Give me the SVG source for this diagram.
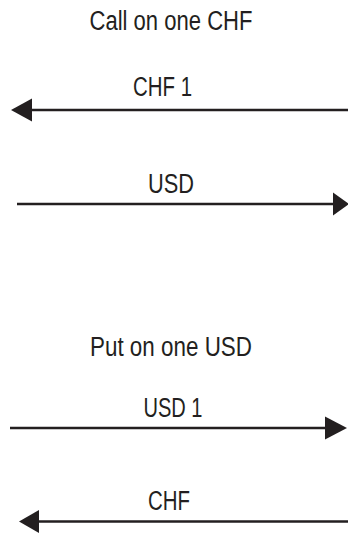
<svg xmlns="http://www.w3.org/2000/svg" width="348" height="534" viewBox="0 0 348 534">
<style>
.t{font-family:"Liberation Sans",Arial,sans-serif;font-size:27px;fill:#231f20;text-anchor:middle}
.c{stroke:#231f20;stroke-width:2.6;fill:none}
.h{fill:#231f20;stroke:none}
</style>
<rect width="348" height="534" fill="#fff"/>
<g id="title-call"><text class="t" x="171" y="30" textLength="163" lengthAdjust="spacingAndGlyphs">Call on one CHF</text></g>
<g id="label-chf1"><text class="t" x="162.5" y="96" textLength="59" lengthAdjust="spacingAndGlyphs">CHF 1</text></g>
<g id="label-usd"><text class="t" x="171" y="193" textLength="46" lengthAdjust="spacingAndGlyphs">USD</text></g>
<g id="title-put"><text class="t" x="171" y="356" textLength="162" lengthAdjust="spacingAndGlyphs">Put on one USD</text></g>
<g id="label-usd1"><text class="t" x="173" y="417" textLength="59" lengthAdjust="spacingAndGlyphs">USD 1</text></g>
<g id="label-chf"><text class="t" x="169" y="510" textLength="42" lengthAdjust="spacingAndGlyphs">CHF</text></g>
<g id="connectors">
<line class="c" x1="30" y1="110" x2="348" y2="110"/>
<polygon class="h" points="11,110 32,98.5 32,121.5"/>
<line class="c" x1="17" y1="204" x2="336" y2="204"/>
<polygon class="h" points="349,204 333,192.5 333,215.5"/>
<line class="c" x1="10" y1="428" x2="328" y2="428"/>
<polygon class="h" points="347,428 325,416.5 325,439.5"/>
<line class="c" x1="36" y1="521.5" x2="348" y2="521.5"/>
<polygon class="h" points="19,521.5 39,510 39,533"/>
</g>
</svg>
